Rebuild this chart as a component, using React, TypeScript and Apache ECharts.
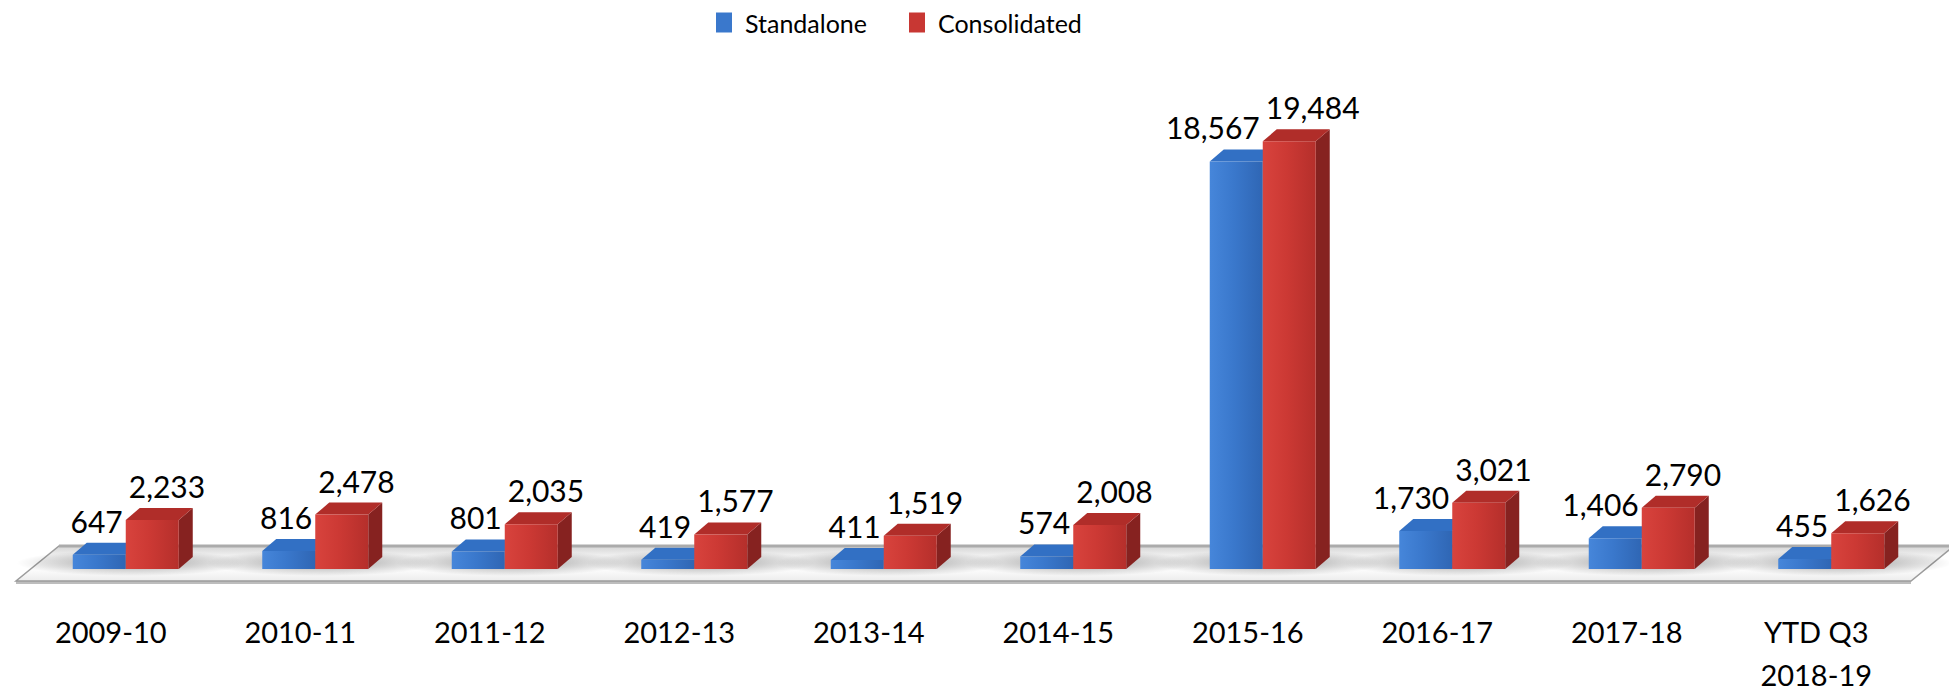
import React, { useEffect, useRef } from "react";
import * as echarts from "echarts";

const categories = [
  "2009-10",
  "2010-11",
  "2011-12",
  "2012-13",
  "2013-14",
  "2014-15",
  "2015-16",
  "2016-17",
  "2017-18",
  "YTD Q3\n2018-19",
];
const standalone = [647, 816, 801, 419, 411, 574, 18567, 1730, 1406, 455];
const consolidated = [2233, 2478, 2035, 1577, 1519, 2008, 19484, 3021, 2790, 1626];
const seriesNames = ["Standalone", "Consolidated"];

const FONT = "Lato, 'Open Sans', sans-serif";
const BAR_W = 53;
const DX = 14;
const DY = 12;
const SHIFT = 15;
const FLOOR_FRONT = 12;
const FLOOR_BACK = 23;
const FLOOR_DX = 43;

const palette = [
  {
    legend: "#3a78cc",
    front: ["#4686da", "#3a78cc", "#2f66b4"],
    top: "#3270c4",
    side: "#23508f",
  },
  {
    legend: "#c83733",
    front: ["#d8433d", "#cc3934", "#b52f2b"],
    top: "#b02d29",
    side: "#862220",
  },
];

const fmt = (v: number) => v.toLocaleString("en-US");

function barRenderer(s: number) {
  return (params: any, api: any) => {
    const i = api.value(0);
    const v = api.value(1);
    const base = api.coord([i, 0]);
    const top = api.coord([i, v]);
    const junction = base[0] + SHIFT;
    const x0 = s === 0 ? junction - BAR_W : junction;
    const x1 = x0 + BAR_W;
    const yb = base[1];
    const yt = top[1];
    const c = palette[s];
    return {
      type: "group",
      children: [
        {
          type: "polygon",
          shape: {
            points: [
              [x1, yt],
              [x1 + DX, yt - DY],
              [x1 + DX, yb - DY],
              [x1, yb],
            ],
          },
          style: { fill: c.side },
        },
        {
          type: "polygon",
          shape: {
            points: [
              [x0, yt],
              [x0 + DX, yt - DY],
              [x1 + DX, yt - DY],
              [x1, yt],
            ],
          },
          style: { fill: c.top },
        },
        {
          type: "rect",
          shape: { x: x0, y: yt, width: BAR_W, height: yb - yt },
          style: {
            fill: new echarts.graphic.LinearGradient(0, 0, 1, 0, [
              { offset: 0, color: c.front[0] },
              { offset: 0.45, color: c.front[1] },
              { offset: 1, color: c.front[2] },
            ]),
          },
        },
        {
          type: "text",
          x: s === 0 ? x1 - 3 : x0 + 3,
          y: yt - 19,
          style: {
            text: fmt(v),
            fill: "#000",
            fontSize: 30,
            fontFamily: FONT,
            align: s === 0 ? "right" : "left",
            verticalAlign: "bottom",
          },
        },
      ],
    };
  };
}

function floorRenderer(params: any, api: any) {
  const c0 = api.coord([0, 0]);
  const bw = api.size([1, 0])[0];
  const left = c0[0] - bw / 2;
  const right = left + bw * categories.length;
  const yb = c0[1];
  const yf = yb + FLOOR_FRONT;
  const yk = yb - FLOOR_BACK;
  const children: any[] = [
    {
      type: "polygon",
      shape: {
        points: [
          [left, yf],
          [right, yf],
          [right, yf + 3],
          [left, yf + 3],
        ],
      },
      style: { fill: "#bdbdbd" },
    },
    {
      type: "polygon",
      shape: {
        points: [
          [left, yf],
          [right, yf],
          [right + FLOOR_DX, yk],
          [left + FLOOR_DX, yk],
        ],
      },
      style: {
        fill: new echarts.graphic.LinearGradient(0, 0, 0, 1, [
          { offset: 0, color: "#d4d4d4" },
          { offset: 0.25, color: "#eeeeee" },
          { offset: 0.7, color: "#fbfbfb" },
          { offset: 1, color: "#ececec" },
        ]),
        stroke: "#9c9c9c",
        lineWidth: 1.5,
      },
    },
  ];
  for (let i = 0; i < categories.length; i++) {
    const cx = api.coord([i, 0])[0] + SHIFT + 6;
    children.push({
      type: "ellipse",
      shape: { cx, cy: yb - 6, rx: 115, ry: 13 },
      style: {
        fill: new echarts.graphic.RadialGradient(0.5, 0.5, 0.5, [
          { offset: 0, color: "rgba(0,0,0,0.36)" },
          { offset: 0.6, color: "rgba(0,0,0,0.14)" },
          { offset: 1, color: "rgba(0,0,0,0)" },
        ]),
      },
    });
  }
  children.push({
    type: "line",
    shape: { x1: left + FLOOR_DX, y1: yk, x2: right + FLOOR_DX, y2: yk },
    style: { stroke: "#ababab", lineWidth: 3 },
  });
  return { type: "group", children };
}

export default function App() {
  const ref = useRef<HTMLDivElement>(null);

  useEffect(() => {
    if (!ref.current) return;
    const chart = echarts.init(ref.current, null, { renderer: "svg" });
    const option: any = {
      animation: false,
      backgroundColor: "#ffffff",
      legend: {
        data: seriesNames,
        left: 711,
        top: 5,
        icon: "rect",
        itemWidth: 16,
        itemHeight: 20,
        itemGap: 42,
        textStyle: {
          fontSize: 25,
          fontFamily: FONT,
          color: "#000",
          padding: [0, 0, 0, 8],
        },
      },
      grid: { left: 16, right: 38, top: 130, bottom: 118, containLabel: false },
      xAxis: {
        type: "category",
        data: categories,
        boundaryGap: true,
        axisLine: { show: false },
        axisTick: { show: false },
        splitLine: { show: false },
        axisLabel: {
          fontSize: 29,
          fontFamily: FONT,
          color: "#000",
          lineHeight: 43,
          margin: 41,
          interval: 0,
        },
      },
      yAxis: { type: "value", min: 0, max: 20000, show: false },
      series: [
        {
          name: "floor",
          type: "custom",
          silent: true,
          z: 1,
          data: [[0, 0]],
          encode: { x: 0, y: 1 },
          renderItem: floorRenderer,
        },
        {
          name: seriesNames[0],
          type: "custom",
          z: 2,
          itemStyle: { color: palette[0].legend },
          data: standalone.map((v, i) => [i, v]),
          encode: { x: 0, y: 1 },
          renderItem: barRenderer(0),
        },
        {
          name: seriesNames[1],
          type: "custom",
          z: 3,
          itemStyle: { color: palette[1].legend },
          data: consolidated.map((v, i) => [i, v]),
          encode: { x: 0, y: 1 },
          renderItem: barRenderer(1),
        },
      ],
    };
    chart.setOption(option);
    return () => chart.dispose();
  }, []);

  return (
    <div
      ref={ref}
      style={{ position: "fixed", left: 0, top: 0, width: 1949, height: 696 }}
    />
  );
}
